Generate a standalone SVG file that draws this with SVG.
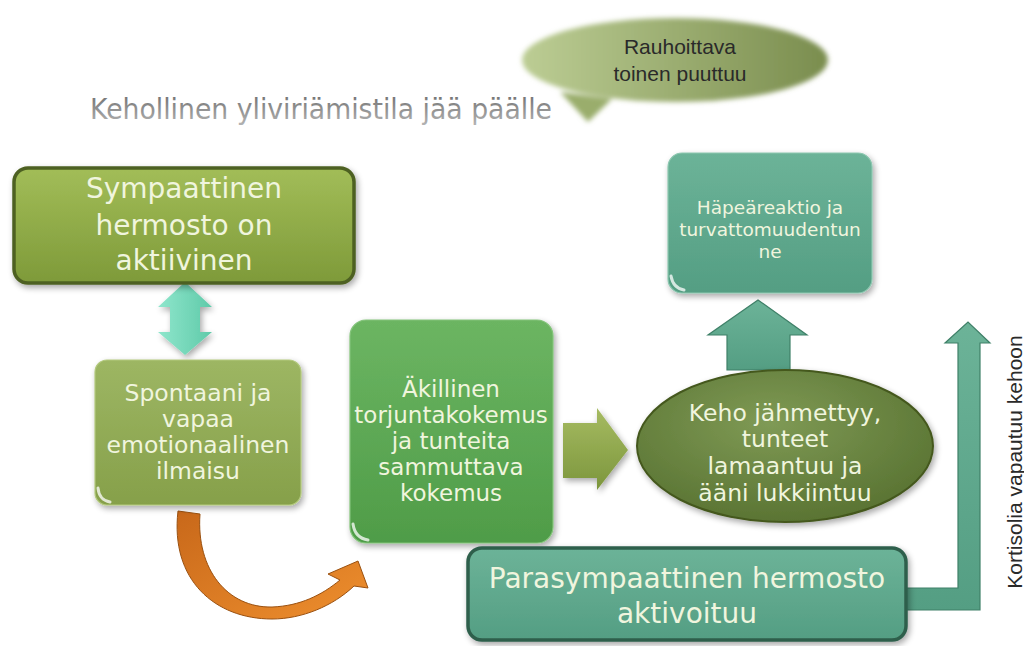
<svg xmlns="http://www.w3.org/2000/svg" width="1024" height="646" viewBox="0 0 1024 646">
<defs>
<style>
.t{font-family:"DejaVu Sans","Liberation Sans",sans-serif;fill:#f0f5de;text-anchor:middle}
.dk{font-family:"Liberation Sans","DejaVu Sans",sans-serif;fill:#2a2a2a;text-anchor:middle}
.teal{fill:url(#gTeal);stroke:#3f8068;stroke-width:1.2}
.glint{fill:none;stroke:#ffffff;stroke-opacity:0.75;stroke-width:3;stroke-linecap:round}
</style>
<linearGradient id="gSym" x1="0" y1="0" x2="0" y2="1"><stop offset="0" stop-color="#a2bd58"/><stop offset="1" stop-color="#7e9a39"/></linearGradient>
<linearGradient id="gSpo" x1="0" y1="0" x2="0" y2="1"><stop offset="0" stop-color="#9db663"/><stop offset="1" stop-color="#86a04a"/></linearGradient>
<linearGradient id="gAki" x1="0" y1="0" x2="0" y2="1"><stop offset="0" stop-color="#6cb562"/><stop offset="1" stop-color="#4f9c48"/></linearGradient>
<linearGradient id="gTeal" x1="0" y1="0" x2="0" y2="1"><stop offset="0" stop-color="#6cb398"/><stop offset="1" stop-color="#549e83"/></linearGradient>
<linearGradient id="gOlive" x1="0" y1="0" x2="0" y2="1"><stop offset="0" stop-color="#a6bb62"/><stop offset="1" stop-color="#7c963c"/></linearGradient>
<linearGradient id="gMint" x1="0" y1="0" x2="1" y2="0"><stop offset="0" stop-color="#8fe6cc"/><stop offset="1" stop-color="#5fcaa9"/></linearGradient>
<linearGradient id="gOr" x1="0" y1="0" x2="1" y2="1"><stop offset="0" stop-color="#c8681a"/><stop offset="1" stop-color="#ee8f2e"/></linearGradient>
<radialGradient id="gEll" cx="0.45" cy="0.35" r="0.65"><stop offset="0" stop-color="#7f9a55"/><stop offset="1" stop-color="#5a7433"/></radialGradient>
<linearGradient id="gBub" x1="0" y1="0" x2="1" y2="0"><stop offset="0" stop-color="#bccd94"/><stop offset="1" stop-color="#7a8d4e"/></linearGradient>
<linearGradient id="gTitle" x1="0" y1="0" x2="0" y2="1"><stop offset="0" stop-color="#6f6f6f"/><stop offset="1" stop-color="#b5b5b5"/></linearGradient>
<filter id="sh" x="-10%" y="-10%" width="130%" height="130%"><feGaussianBlur in="SourceAlpha" stdDeviation="3"/><feOffset dx="2" dy="3"/><feComponentTransfer><feFuncA type="linear" slope="0.35"/></feComponentTransfer><feMerge><feMergeNode/><feMergeNode in="SourceGraphic"/></feMerge></filter>
<filter id="soft" x="-10%" y="-20%" width="120%" height="140%"><feGaussianBlur stdDeviation="2.5"/></filter>
</defs>
<rect width="1024" height="646" fill="#ffffff"/>

<g id="title">
<text x="90" y="119" font-family="DejaVu Sans, Liberation Sans, sans-serif" font-size="28" fill="url(#gTitle)" textLength="462" lengthAdjust="spacingAndGlyphs">Kehollinen yliviriämistila jää päälle</text>
</g>

<g id="bubble">
<g filter="url(#soft)">
<path d="M560,92 L588,122 L612,99 Z" fill="#9aad6c"/>
<ellipse cx="675" cy="60" rx="153" ry="42" fill="url(#gBub)"/>
</g>
<text class="dk" font-size="21" x="680" y="54">Rauhoittava</text>
<text class="dk" font-size="21" x="680" y="81">toinen puuttuu</text>
</g>

<g id="connectors">
<path d="M185,282 L212,307 L200,307 L200,332 L212,332 L185,355 L158,332 L170,332 L170,307 L158,307 Z" fill="url(#gMint)" filter="url(#sh)"/>
<path d="M178,511 L200,514 C196,570 228,608 272,607 C300,606 322,595 340,580 L328,574 L358,561 L368,588 L354,586 C333,606 302,619 272,619 C215,619 170,580 178,511 Z" fill="url(#gOr)" stroke="#9a500f" stroke-width="1"/>
<path d="M563,423 L597,423 L597,408 L628,450 L597,490 L597,478 L563,478 Z" fill="url(#gOlive)" filter="url(#sh)"/>
<path d="M758,300 L807,335 L790,335 L790,370 L727,370 L727,335 L708,335 Z" class="teal"/>
<path d="M905,588 L958,588 L958,343 L945,343 L968,322 L990,343 L980,343 L980,610 L905,610 Z" class="teal"/>
</g>

<g id="sympaattinen">
<rect x="14" y="168" width="340" height="115" rx="14" fill="url(#gSym)" stroke="#4d6120" stroke-width="3.5" filter="url(#sh)"/>
<text class="t" font-size="28" x="184" y="198">Sympaattinen</text>
<text class="t" font-size="28" x="184" y="235">hermosto on</text>
<text class="t" font-size="28" x="184" y="270">aktiivinen</text>
</g>

<g id="spontaani">
<rect x="95" y="360" width="206" height="145" rx="12" fill="url(#gSpo)" stroke="#b3c97e" stroke-width="1.2" filter="url(#sh)"/>
<path class="glint" d="M98,488 Q99,500 110,502"/>
<text class="t" font-size="23.5" x="198" y="401">Spontaani ja</text>
<text class="t" font-size="23.5" x="198" y="427">vapaa</text>
<text class="t" font-size="23.5" x="198" y="453">emotionaalinen</text>
<text class="t" font-size="23.5" x="198" y="479">ilmaisu</text>
</g>

<g id="akillinen">
<rect x="350" y="320" width="203" height="223" rx="16" fill="url(#gAki)" stroke="#83c47a" stroke-width="1.2" filter="url(#sh)"/>
<path class="glint" d="M353,524 Q355,538 368,540"/>
<text class="t" font-size="23" x="451" y="397">Äkillinen</text>
<text class="t" font-size="23" x="451" y="423">torjuntakokemus</text>
<text class="t" font-size="23" x="451" y="449">ja tunteita</text>
<text class="t" font-size="23" x="451" y="475">sammuttava</text>
<text class="t" font-size="23" x="451" y="501">kokemus</text>
</g>

<g id="hapea">
<rect x="668" y="153" width="204" height="140" rx="14" fill="url(#gTeal)" stroke="#8dc7b0" stroke-width="1.2" filter="url(#sh)"/>
<path class="glint" d="M671,276 Q673,288 684,290"/>
<text class="t" font-size="18.5" x="770" y="214">Häpeäreaktio ja</text>
<text class="t" font-size="18.5" x="770" y="236">turvattomuudentun</text>
<text class="t" font-size="18.5" x="770" y="258">ne</text>
</g>

<g id="keho">
<ellipse cx="785" cy="446" rx="148" ry="76" fill="url(#gEll)" stroke="#44581f" stroke-width="2" filter="url(#sh)"/>
<text class="t" font-size="23.5" x="785" y="421">Keho jähmettyy,</text>
<text class="t" font-size="23.5" x="785" y="447">tunteet</text>
<text class="t" font-size="23.5" x="785" y="474">lamaantuu ja</text>
<text class="t" font-size="23.5" x="785" y="501">ääni lukkiintuu</text>
</g>

<g id="parasympaattinen">
<rect x="468" y="548" width="438" height="92" rx="14" fill="url(#gTeal)" stroke="#2f5f4c" stroke-width="3.5" filter="url(#sh)"/>
<text class="t" font-size="28" x="687" y="588" fill="#eef6ee">Parasympaattinen hermosto</text>
<text class="t" font-size="28" x="687" y="623" fill="#eef6ee">aktivoituu</text>
</g>

<g id="kortisoli">
<text class="dk" font-family="DejaVu Sans, Liberation Sans, sans-serif" font-size="21" transform="translate(1022,462) rotate(-90)">Kortisolia vapautuu kehoon</text>
</g>
</svg>
